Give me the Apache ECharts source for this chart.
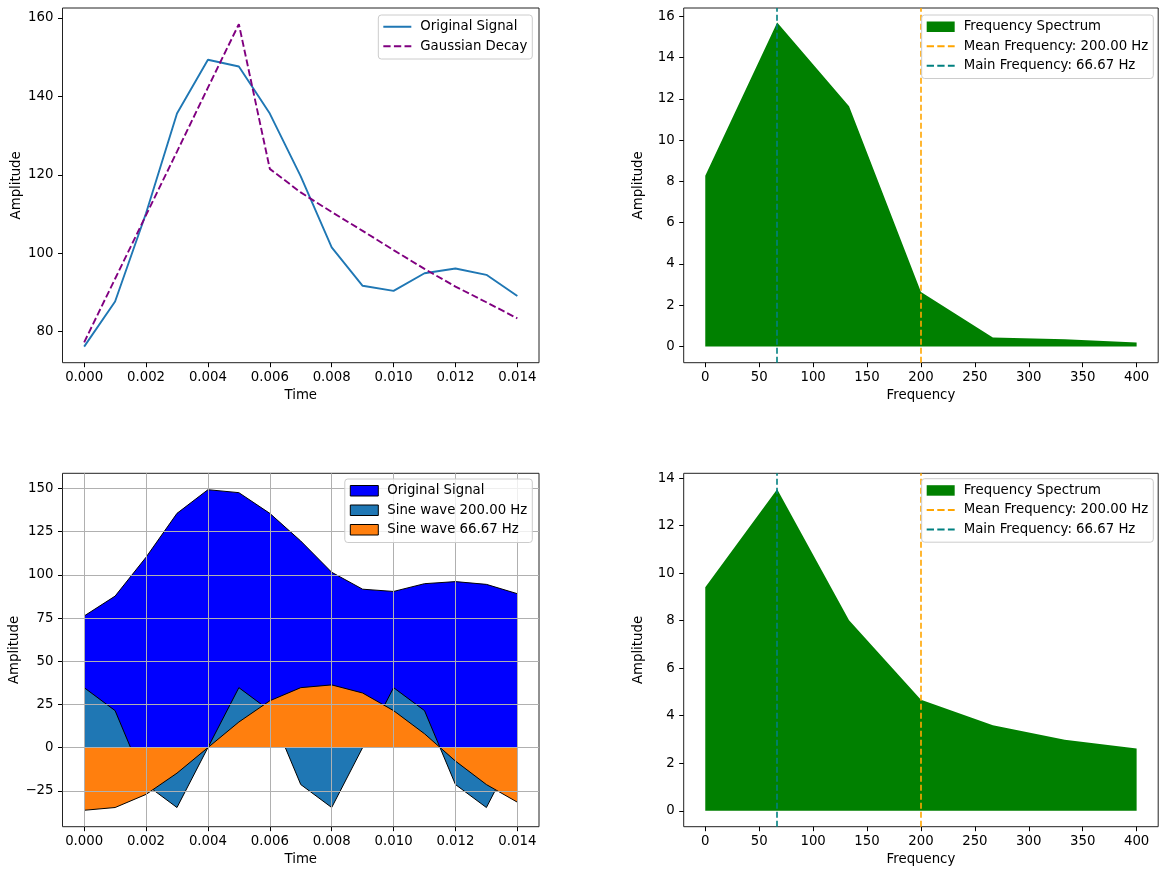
<!DOCTYPE html>
<html><head><meta charset="utf-8">
<script src="https://cdn.jsdelivr.net/npm/echarts@6/dist/echarts.min.js"></script>
<style>html,body{margin:0;padding:0;background:#fff}#c{width:1159px;height:869px}</style>
</head><body><div id="c"></div><script>
// ---- data ----
const time = [0, 0.001, 0.002, 0.003, 0.004, 0.005, 0.006, 0.007, 0.008, 0.009, 0.010, 0.011, 0.012, 0.013, 0.014];
const originalSignal = [76.2, 87.7, 110.2, 135.6, 149.3, 147.6, 135.6, 119.6, 101.5, 91.7, 90.4, 94.9, 96.1, 94.5, 89.1];
const gaussianDecay = [77.3, 93.5, 109.7, 125.9, 142.2, 158.4, 121.5, 115.5, 110.5, 105.7, 100.8, 96.0, 91.5, 87.5, 83.4];
const sine200 = [34.7, 21.4, -21.4, -34.7, 0, 34.7, 21.4, -21.4, -34.7, 0, 34.7, 21.4, -21.4, -34.7, 0];
const sine66 = [-36.3, -34.7, -27.1, -14.8, 0, 14.8, 27.1, 34.7, 36.3, 31.6, 21.4, 8.0, -7.8, -21.4, -31.6];
const freqs = [0, 66.67, 133.33, 200, 266.67, 333.33, 400];
const spectrumTop = [8.27, 15.7, 11.64, 2.65, 0.44, 0.36, 0.2];
const spectrumBottom = [9.41, 13.53, 8.02, 4.67, 3.6, 2.99, 2.62];
const meanFreq = 200.00;
const mainFreq = 66.67;
const timeTicks = [0, 0.002, 0.004, 0.006, 0.008, 0.010, 0.012, 0.014];
const freqTicks = [0, 50, 100, 150, 200, 250, 300, 350, 400];
const ampTicksTL = [80, 100, 120, 140, 160];
const ampTicksTR = [0, 2, 4, 6, 8, 10, 12, 14, 16];
const ampTicksBL = [-25, 0, 25, 50, 75, 100, 125, 150];
const ampTicksBR = [0, 2, 4, 6, 8, 10, 12, 14];

// ---- style ----
const FONT = 'DejaVu Sans';
const FS = 13.3;
const minus = v => String(v).replace('-', '\u2212');
const zip = (xs, ys) => xs.map((x, i) => [x, ys[i]]);

function xAxisDef(gi, min, max, ticks, fmt, name, grid) {
  return {
    type: 'value', gridIndex: gi, min, max, name, nameLocation: 'middle', nameGap: 26,
    z: grid ? 5 : 0,
    nameTextStyle: {fontFamily: FONT, fontSize: FS, color: '#000'},
    axisLine: {show: false, onZero: false},
    axisTick: {show: true, length: 4.5, customValues: ticks, lineStyle: {color: '#000', width: 1}},
    axisLabel: {customValues: ticks, formatter: fmt, margin: 8, fontFamily: FONT, fontSize: FS, color: '#000'},
    splitLine: {show: !!grid, lineStyle: {color: '#b0b0b0', width: 1}}
  };
}
function yAxisDef(gi, min, max, ticks, name, grid) {
  return {
    type: 'value', gridIndex: gi, min, max, name, nameLocation: 'middle', nameGap: 39, nameRotate: 90,
    z: grid ? 5 : 0,
    nameTextStyle: {fontFamily: FONT, fontSize: FS, color: '#000'},
    axisLine: {show: false, onZero: false},
    axisTick: {show: true, length: 4.5, customValues: ticks, lineStyle: {color: '#000', width: 1}},
    axisLabel: {customValues: ticks, formatter: minus, margin: 9, fontFamily: FONT, fontSize: FS, color: '#000'},
    splitLine: {show: !!grid, lineStyle: {color: '#b0b0b0', width: 1}}
  };
}
const gridBase = {show: true, borderColor: '#222', borderWidth: 1, backgroundColor: 'transparent', containLabel: false};
const legendBase = {
  orient: 'vertical', z: 10, backgroundColor: 'rgba(255,255,255,0.8)', borderColor: '#cccccc', borderWidth: 1,
  borderRadius: 3, padding: [4, 5, 5, 5], itemWidth: 28, itemHeight: 10.5, itemGap: 4,
  textStyle: {fontFamily: FONT, fontSize: FS, color: '#000', lineHeight: 15.5, padding: [0, 0, 0, 4]}
};
// legend line icons (solid / dashed), boxed to the icon height so the stroke stays thin
const SOLID_ICON = 'path://M0,0L0.01,0Z M0,4.3h28v1.9h-28z M0,10.5L0.01,10.5Z';
const DASH_ICON = 'path://M0,0L0.01,0Z M0,4.3h7.3v1.9h-7.3z M10.6,4.3h7.3v1.9h-7.3z M21.2,4.3h6.8v1.9h-6.8z M0,10.5L0.01,10.5Z';
const tfmt = v => v.toFixed(3);
const ifmt = v => String(v);

function markerSeries(name, value, color, xi, yi) {
  return {
    name, type: 'line', xAxisIndex: xi, yAxisIndex: yi, data: [], symbol: 'none', z: 4,
    lineStyle: {color, type: [6, 3], width: 1.6}, itemStyle: {color},
    markLine: {silent: true, symbol: ['none', 'none'], label: {show: false},
      lineStyle: {color, type: [6, 3], width: 1.6}, data: [{xAxis: value}]}
  };
}
function spectrumSeries(values, xi, yi) {
  return {
    name: 'Frequency Spectrum', type: 'line', xAxisIndex: xi, yAxisIndex: yi, data: zip(freqs, values),
    symbol: 'none', lineStyle: {width: 0, color: '#008000'}, itemStyle: {color: '#008000'},
    areaStyle: {color: '#008000', opacity: 1}
  };
}
const meanName = 'Mean Frequency: ' + meanFreq.toFixed(2) + ' Hz';
const mainName = 'Main Frequency: ' + mainFreq.toFixed(2) + ' Hz';
const specLegend = [
  {name: 'Frequency Spectrum', icon: 'rect', itemStyle: {color: '#008000', borderWidth: 0}},
  {name: meanName, icon: DASH_ICON, itemStyle: {color: '#ffa500', borderWidth: 0}},
  {name: mainName, icon: DASH_ICON, itemStyle: {color: '#008080', borderWidth: 0}}
];

const option = {
  animation: false,
  backgroundColor: '#fff',
  grid: [
    Object.assign({left: 62.5, top: 8, width: 476.5, height: 354.7}, gridBase),
    Object.assign({left: 683.7, top: 8, width: 474.5, height: 354.7}, gridBase),
    Object.assign({left: 62.5, top: 473.3, width: 476.5, height: 353.4}, gridBase),
    Object.assign({left: 683.7, top: 473.3, width: 474.5, height: 353.4}, gridBase)
  ],
  xAxis: [
    xAxisDef(0, -0.0007, 0.0147, timeTicks, tfmt, 'Time'),
    xAxisDef(1, -20, 420, freqTicks, ifmt, 'Frequency'),
    xAxisDef(2, -0.0007, 0.0147, timeTicks, tfmt, 'Time', true),
    xAxisDef(3, -20, 420, freqTicks, ifmt, 'Frequency')
  ],
  yAxis: [
    yAxisDef(0, 72.1, 162.5, ampTicksTL, 'Amplitude'),
    yAxisDef(1, -0.78, 16.4, ampTicksTR, 'Amplitude'),
    yAxisDef(2, -45.8, 158.8, ampTicksBL, 'Amplitude', true),
    yAxisDef(3, -0.67, 14.2, ampTicksBR, 'Amplitude')
  ],
  legend: [
    Object.assign({}, legendBase, {right: 1159 - 532.3, top: 15,
      data: [
        {name: 'Original Signal', icon: SOLID_ICON, itemStyle: {color: '#1f77b4', borderWidth: 0}},
        {name: 'Gaussian Decay', icon: DASH_ICON, itemStyle: {color: '#800080', borderWidth: 0}}
      ]}),
    Object.assign({}, legendBase, {right: 1159 - 1153.3, top: 15, data: specLegend}),
    Object.assign({}, legendBase, {right: 1159 - 532.3, top: 479,
      data: [
        {name: 'Original Signal ', icon: 'rect', itemStyle: {color: '#0000ff', borderColor: '#000', borderWidth: 1}},
        {name: 'Sine wave 200.00 Hz', icon: 'rect', itemStyle: {color: '#1f77b4', borderColor: '#000', borderWidth: 1}},
        {name: 'Sine wave 66.67 Hz', icon: 'rect', itemStyle: {color: '#ff7f0e', borderColor: '#000', borderWidth: 1}}
      ]}),
    Object.assign({}, legendBase, {right: 1159 - 1153.3, top: 478.7, data: specLegend})
  ],
  series: [
    {name: 'Original Signal', type: 'line', xAxisIndex: 0, yAxisIndex: 0, data: zip(time, originalSignal),
      symbol: 'none', lineStyle: {color: '#1f77b4', width: 1.9}, itemStyle: {color: '#1f77b4'}},
    {name: 'Gaussian Decay', type: 'line', xAxisIndex: 0, yAxisIndex: 0, data: zip(time, gaussianDecay),
      symbol: 'none', lineStyle: {color: '#800080', width: 1.9, type: [7, 3]}, itemStyle: {color: '#800080'}},
    spectrumSeries(spectrumTop, 1, 1),
    markerSeries(meanName, meanFreq, '#ffa500', 1, 1),
    markerSeries(mainName, mainFreq, '#008080', 1, 1),
    {name: 'Original Signal ', type: 'line', xAxisIndex: 2, yAxisIndex: 2, data: zip(time, originalSignal), z: 2,
      symbol: 'none', lineStyle: {color: '#000', width: 1}, itemStyle: {color: '#0000ff'},
      areaStyle: {color: '#0000ff', opacity: 1}},
    {name: 'Sine wave 200.00 Hz', type: 'line', xAxisIndex: 2, yAxisIndex: 2, data: zip(time, sine200), z: 3,
      symbol: 'none', lineStyle: {color: '#000', width: 1}, itemStyle: {color: '#1f77b4'},
      areaStyle: {color: '#1f77b4', opacity: 1}},
    {name: 'Sine wave 66.67 Hz', type: 'line', xAxisIndex: 2, yAxisIndex: 2, data: zip(time, sine66), z: 4,
      symbol: 'none', lineStyle: {color: '#000', width: 1}, itemStyle: {color: '#ff7f0e'},
      areaStyle: {color: '#ff7f0e', opacity: 1}},
    spectrumSeries(spectrumBottom, 3, 3),
    markerSeries(meanName, meanFreq, '#ffa500', 3, 3),
    markerSeries(mainName, mainFreq, '#008080', 3, 3)
  ]
};
const chart = echarts.init(document.getElementById('c'), null, {renderer: 'canvas'});
chart.setOption(option);
</script></body></html>
